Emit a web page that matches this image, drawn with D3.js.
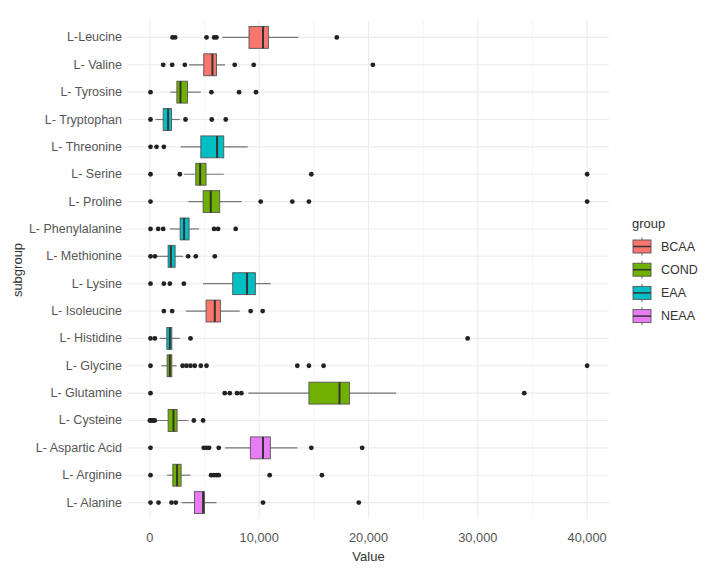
<!DOCTYPE html>
<html>
<head>
<meta charset="utf-8">
<script src="https://cdn.jsdelivr.net/npm/d3@7"></script>
<style>
  body { margin: 0; background: #fff; }
  svg { display: block; }
  text { font-family: "Liberation Sans", Arial, sans-serif; }
</style>
</head>
<body>
<svg id="chart" width="710" height="572"></svg>
<script>
// ---- Data ----
const subgroups = ["L-Leucine","L- Valine","L- Tyrosine","L- Tryptophan","L- Threonine","L- Serine","L- Proline","L- Phenylalanine","L- Methionine","L- Lysine","L- Isoleucine","L- Histidine","L- Glycine","L- Glutamine","L- Cysteine","L- Aspartic Acid","L- Arginine","L- Alanine"];
const groupOf  = ["BCAA","BCAA","COND","EAA","EAA","COND","COND","EAA","EAA","EAA","BCAA","EAA","COND","COND","COND","NEAA","COND","NEAA"];
const whiskerLo = [6640,3590,1860,520,2830,3130,3530,1830,610,4870,3290,910,1070,9010,610,6880,1580,2900];
const q1        = [9070,4930,2470,1220,4660,4200,4870,2770,1670,7580,5140,1550,1580,14550,1670,9190,2100,4080];
const median    = [10350,5720,2800,1670,6150,4600,5570,3130,1920,8890,5940,1830,1830,17350,2160,10350,2490,4870];
const q3        = [10840,6090,3440,1980,6760,5140,6390,3590,2310,9650,6450,2010,2010,18260,2490,11020,2860,5000];
const whiskerHi = [13580,6880,4660,2740,8950,6760,8400,4500,3040,11050,8220,2740,2440,22530,3530,13490,3720,6090];
const outliers  = [
  [2070,2310,5180,5880,6090,17100],
  [1220,2040,3200,7760,9500,20400],
  [60,5630,8160,9710],
  [60,3260,5660,6940],
  [60,610,1280],
  [60,2740,14770,40000],
  [60,10140,13030,14550,40000],
  [60,760,1220,5870,6240,7850],
  [60,460,3500,4200,5940],
  [60,1280,1830,3110],
  [1280,2040,9220,10320],
  [60,460,3720,29070],
  [60,2990,3350,3720,4110,4660,5180,13490,14550,15890,40000],
  [60,6850,7310,7970,8370,34250],
  [0,150,300,450,4020,4870],
  [60,4930,5180,5420,6300,14770,19420],
  [60,5600,5840,6090,6300,10960,15740],
  [60,790,1980,2370,10350,19110]
];
const groups = ["BCAA","COND","EAA","NEAA"];
const groupColors = ["#F8766D","#70B000","#00BFC4","#E77CF5"];
const xTicks = [0,10000,20000,30000,40000];
const xMinorTicks = [5000,15000,25000,35000];

// ---- Layout ----
const svg = d3.select("#chart");
const panel = {left: 128, right: 609, top: 21, bottom: 519};

const x = d3.scaleLinear().domain([-2000, 42000]).range([panel.left, panel.right]);
const y = d3.scaleBand().domain(subgroups).range([panel.top, panel.bottom]).paddingInner(0).paddingOuter(0.1);
const color = d3.scaleOrdinal().domain(groups).range(groupColors);
const fmt = d3.format(",");

const g = svg.append("g");

// minor vertical grid
g.selectAll("line.minor").data(xMinorTicks).join("line")
  .attr("x1", d => x(d)).attr("x2", d => x(d))
  .attr("y1", panel.top).attr("y2", panel.bottom)
  .attr("stroke", "#f2f2f2").attr("stroke-width", 0.8);
// major vertical grid
g.selectAll("line.majx").data(xTicks).join("line")
  .attr("x1", d => x(d)).attr("x2", d => x(d))
  .attr("y1", panel.top).attr("y2", panel.bottom)
  .attr("stroke", "#ebebeb").attr("stroke-width", 1.1);
// horizontal grid at categories
g.selectAll("line.majy").data(subgroups).join("line")
  .attr("x1", panel.left).attr("x2", panel.right)
  .attr("y1", d => y(d) + y.bandwidth()/2).attr("y2", d => y(d) + y.bandwidth()/2)
  .attr("stroke", "#ebebeb").attr("stroke-width", 1.1);

const boxH = y.bandwidth() * 0.8;

const rows = g.selectAll("g.row").data(subgroups.map((s, i) => ({s, i}))).join("g")
  .attr("transform", d => `translate(0,${y(d.s) + y.bandwidth()/2})`);

// whiskers
rows.append("line")
  .attr("x1", d => x(whiskerLo[d.i])).attr("x2", d => x(whiskerHi[d.i]))
  .attr("y1", 0).attr("y2", 0)
  .attr("stroke", "#777").attr("stroke-width", 1.2);
// boxes
rows.append("rect")
  .attr("x", d => x(q1[d.i])).attr("width", d => x(q3[d.i]) - x(q1[d.i]))
  .attr("y", -boxH/2).attr("height", boxH)
  .attr("fill", d => color(groupOf[d.i]))
  .attr("stroke", "#555").attr("stroke-width", 0.9);
// medians
rows.append("line")
  .attr("x1", d => x(median[d.i])).attr("x2", d => x(median[d.i]))
  .attr("y1", -boxH/2).attr("y2", boxH/2)
  .attr("stroke", "#333").attr("stroke-width", 2);
// outliers
rows.selectAll("circle").data(d => outliers[d.i]).join("circle")
  .attr("cx", d => x(d)).attr("cy", 0).attr("r", 2.4)
  .attr("fill", "#222");

// y axis labels
g.selectAll("text.ylab").data(subgroups).join("text")
  .attr("x", panel.left - 6).attr("y", d => y(d) + y.bandwidth()/2)
  .attr("text-anchor", "end").attr("dominant-baseline", "central")
  .attr("font-size", 12.5).attr("fill", "#555")
  .text(d => d);

// x axis labels
g.selectAll("text.xlab").data(xTicks).join("text")
  .attr("x", d => x(d)).attr("y", 537)
  .attr("text-anchor", "middle").attr("dominant-baseline", "central")
  .attr("font-size", 12.8).attr("fill", "#555")
  .text(d => fmt(d));

// axis titles
svg.append("text").attr("x", x(20000)).attr("y", 556)
  .attr("text-anchor", "middle").attr("dominant-baseline", "central")
  .attr("font-size", 13).attr("fill", "#333").text("Value");
svg.append("text")
  .attr("transform", `translate(17,${(panel.top + panel.bottom)/2}) rotate(-90)`)
  .attr("text-anchor", "middle").attr("dominant-baseline", "central")
  .attr("font-size", 13).attr("fill", "#333").text("subgroup");

// legend
const lg = svg.append("g");
lg.append("text").attr("x", 632).attr("y", 223)
  .attr("dominant-baseline", "central")
  .attr("font-size", 13).attr("fill", "#333").text("group");
const items = lg.selectAll("g.item").data(groups).join("g")
  .attr("transform", (d, i) => `translate(633,${246.5 + i * 23.2})`);
items.append("line").attr("x1", 9).attr("x2", 9).attr("y1", -9).attr("y2", 9)
  .attr("stroke", "#666").attr("stroke-width", 1);
items.append("rect").attr("x", 0).attr("y", -6.5).attr("width", 18).attr("height", 13)
  .attr("fill", d => color(d)).attr("stroke", "#555").attr("stroke-width", 0.9);
items.append("line").attr("x1", 0).attr("x2", 18).attr("y1", 0).attr("y2", 0)
  .attr("stroke", "#333").attr("stroke-width", 1.5);
items.append("text").attr("x", 28).attr("y", 0)
  .attr("dominant-baseline", "central")
  .attr("font-size", 12.5).attr("fill", "#333").text(d => d);
</script>
</body>
</html>
